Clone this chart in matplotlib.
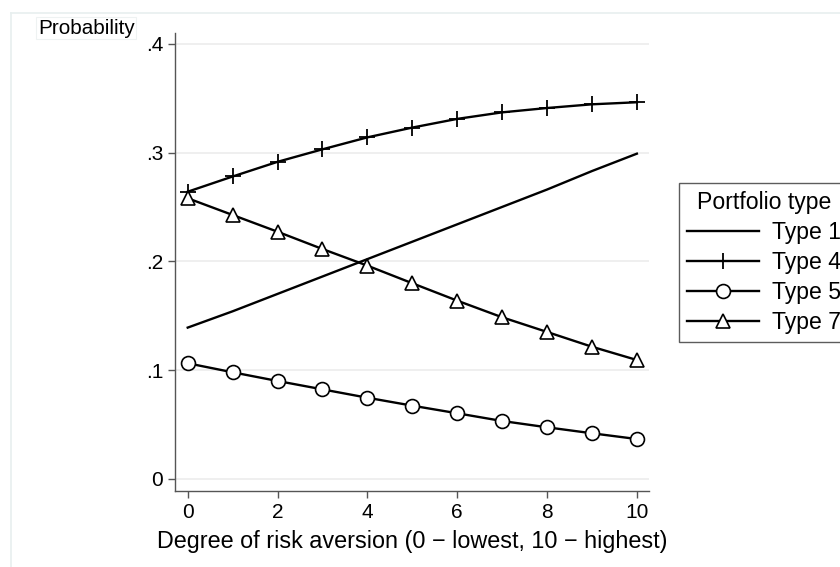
import matplotlib
matplotlib.use("Agg")
import matplotlib.pyplot as plt
from matplotlib.lines import Line2D

plt.rcParams['font.family'] = ['Liberation Sans', 'DejaVu Sans']

risk = [0, 1, 2, 3, 4, 5, 6, 7, 8, 9, 10]
type1 = [0.139, 0.154, 0.170, 0.186, 0.202, 0.218, 0.234, 0.250, 0.266, 0.283, 0.299]
type4 = [0.264, 0.278, 0.2915, 0.303, 0.314, 0.323, 0.331, 0.337, 0.341, 0.3444, 0.3463]
type5 = [0.1062, 0.0979, 0.0899, 0.0822, 0.0745, 0.0672, 0.0602, 0.0531, 0.0473, 0.0418, 0.0365]
type7 = [0.258, 0.2426, 0.2272, 0.2113, 0.196, 0.1798, 0.1638, 0.1485, 0.135, 0.1214, 0.1092]
xticks = [0, 2, 4, 6, 8, 10]
yticks = [0, 0.1, 0.2, 0.3, 0.4]
ytick_labels = ["0", ".1", ".2", ".3", ".4"]
labels = ["Type 1", "Type 4", "Type 5", "Type 7"]

W, H = 840, 567
fig = plt.figure(figsize=(W / 100, H / 100), dpi=100)
fig.patch.set_facecolor('white')

# faint outer graph-region border
border_col = '#e8efef'
fig.add_artist(Line2D([11 / W, 11 / W], [0, 1 - 13 / H], transform=fig.transFigure, color=border_col, lw=1.2))
fig.add_artist(Line2D([11 / W, 1], [1 - 13 / H, 1 - 13 / H], transform=fig.transFigure, color=border_col, lw=1.2))

ax_l, ax_r, ax_t, ax_b = 175, 649, 33, 491
ax = fig.add_axes([ax_l / W, 1 - ax_b / H, (ax_r - ax_l) / W, (ax_b - ax_t) / H])

lw = 1.7
ax.plot(risk, type1, color='black', lw=lw, zorder=3)
ax.plot(risk, type4, color='black', lw=lw, marker='+', markersize=11, markeredgewidth=1.3, zorder=3)
ax.plot(risk, type5, color='black', lw=lw, marker='o', markersize=10, markerfacecolor='white',
        markeredgecolor='black', markeredgewidth=1.2, zorder=4)
ax.plot(risk, type7, color='black', lw=lw, marker='^', markersize=9.5, markerfacecolor='white',
        markeredgecolor='black', markeredgewidth=1.2, zorder=4)

ax.set_xlim(-0.283, 10.27)
ax.set_ylim(-0.0113, 0.410)
ax.set_xticks(xticks)
ax.set_yticks(yticks)
ax.set_yticklabels(ytick_labels)
for y in yticks:
    ax.axhline(y, color='#ebebeb', lw=1.1, zorder=1)

for s in ['top', 'right']:
    ax.spines[s].set_visible(False)
for s in ['left', 'bottom']:
    ax.spines[s].set_color('#555555')
    ax.spines[s].set_linewidth(1.0)
ax.tick_params(axis='both', direction='out', length=5, width=1.0, color='#555555',
               labelsize=15, pad=3.5, labelcolor='black')

ax.set_xlabel("Degree of risk aversion (0 \u2212 lowest, 10 \u2212 highest)", fontsize=16.8, labelpad=6)

fig.text(38 / W, 1 - 28 / H, "Probability", fontsize=14.9, ha='left', va='center',
         bbox=dict(boxstyle='square,pad=0.08', facecolor='white', edgecolor='#eef2f2', lw=0.8))

handles = [
    Line2D([], [], color='black', lw=lw),
    Line2D([], [], color='black', lw=lw, marker='+', markersize=11, markeredgewidth=1.3),
    Line2D([], [], color='black', lw=lw, marker='o', markersize=10, markerfacecolor='white', markeredgewidth=1.2),
    Line2D([], [], color='black', lw=lw, marker='^', markersize=9.5, markerfacecolor='white', markeredgewidth=1.2),
]
leg = fig.legend(handles, labels, title="Portfolio type", loc='upper left',
                 bbox_to_anchor=(679 / W, 1 - 183 / H), fontsize=16.6, title_fontsize=16.6,
                 frameon=True, fancybox=False, edgecolor='#333333', handlelength=3.1,
                 handletextpad=0.57, borderpad=0.35, labelspacing=0.3, borderaxespad=0,
                 markerscale=1.0)
leg.get_frame().set_linewidth(1.0)

fig.savefig("out.png", dpi=100, facecolor='white')
